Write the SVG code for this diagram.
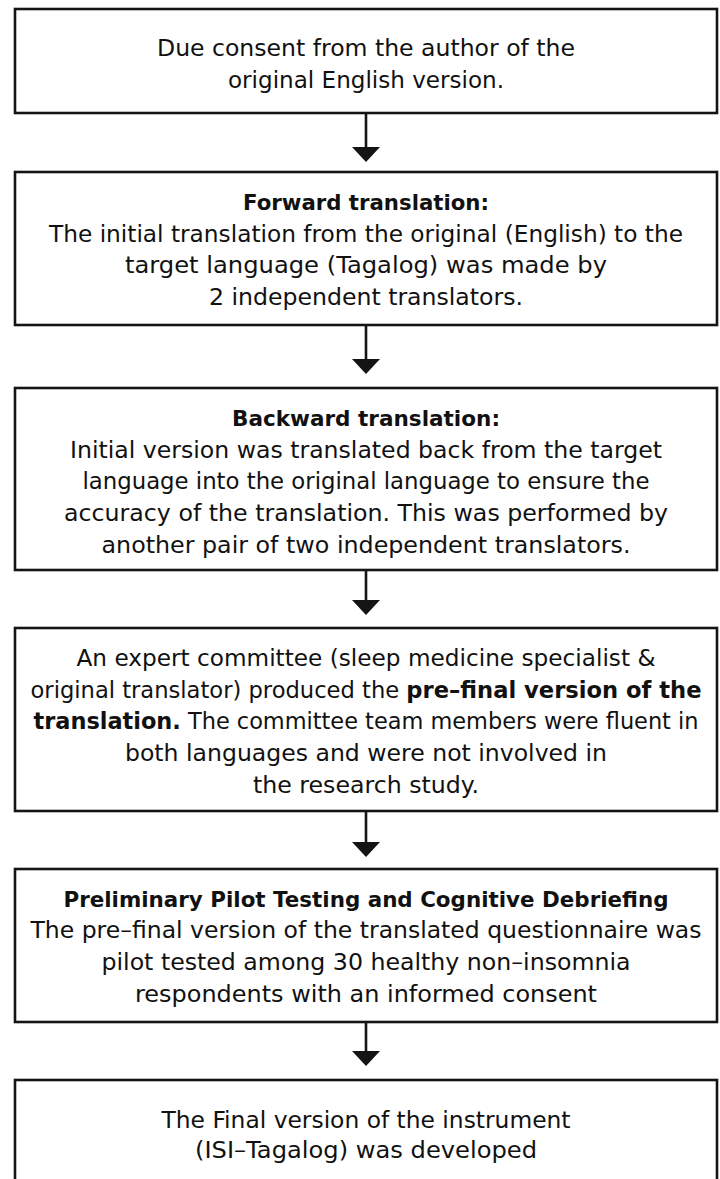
<svg xmlns="http://www.w3.org/2000/svg" width="720" height="1179" viewBox="0 0 720 1179">
  <style>
    .box { fill: #ffffff; stroke: #141414; stroke-width: 2.6; }
    .link { fill: none; stroke: #141414; stroke-width: 2.6; }
    text { font-family: "DejaVu Sans", "Noto Sans", sans-serif; font-size: 23.4px; fill: #111111; text-anchor: middle; }
    .b { font-weight: bold; }
    .title { font-weight: bold; font-size: 21.5px; }
  </style>
  <defs>
    <marker id="head" viewBox="0 0 15 28" refX="3" refY="14" markerWidth="15" markerHeight="28" markerUnits="userSpaceOnUse" orient="auto">
      <path d="M0,0 L15,14 L0,28 Z" fill="#141414"/>
    </marker>
  </defs>

  <rect x="0" y="0" width="720" height="1179" fill="#ffffff"/>

  <!-- flow arrows between the steps -->
  <g id="connectors">
    <line class="link" x1="366" y1="113" x2="366" y2="150" marker-end="url(#head)"/>
    <line class="link" x1="366" y1="325" x2="366" y2="362" marker-end="url(#head)"/>
    <line class="link" x1="366" y1="570" x2="366" y2="603" marker-end="url(#head)"/>
    <line class="link" x1="366" y1="811" x2="366" y2="845" marker-end="url(#head)"/>
    <line class="link" x1="366" y1="1022" x2="366" y2="1054" marker-end="url(#head)"/>
  </g>

  <g id="consent">
    <rect class="box" x="15" y="9" width="702" height="104"/>
    <text x="366" y="56" textLength="418" lengthAdjust="spacingAndGlyphs">Due consent from the author of the</text>
    <text x="366" y="88" textLength="276" lengthAdjust="spacingAndGlyphs">original English version.</text>
  </g>

  <g id="forward">
    <rect class="box" x="15" y="172" width="702" height="153"/>
    <text x="366" y="210" class="title" textLength="246" lengthAdjust="spacingAndGlyphs">Forward translation:</text>
    <text x="366" y="241.7" textLength="634" lengthAdjust="spacingAndGlyphs">The initial translation from the original (English) to the</text>
    <text x="366" y="273.4" textLength="482" lengthAdjust="spacingAndGlyphs">target language (Tagalog) was made by</text>
    <text x="366" y="305" textLength="314" lengthAdjust="spacingAndGlyphs">2 independent translators.</text>
  </g>

  <g id="backward">
    <rect class="box" x="15" y="388" width="702" height="182"/>
    <text x="366" y="426" class="title" textLength="268" lengthAdjust="spacingAndGlyphs">Backward translation:</text>
    <text x="366" y="457.7" textLength="592" lengthAdjust="spacingAndGlyphs">Initial version was translated back from the target</text>
    <text x="366" y="489.4" textLength="567" lengthAdjust="spacingAndGlyphs">language into the original language to ensure the</text>
    <text x="366" y="521" textLength="604" lengthAdjust="spacingAndGlyphs">accuracy of the translation. This was performed by</text>
    <text x="366" y="552.8" textLength="529" lengthAdjust="spacingAndGlyphs">another pair of two independent translators.</text>
  </g>

  <g id="committee">
    <rect class="box" x="15" y="628" width="702" height="183"/>
    <text x="366" y="666" textLength="579" lengthAdjust="spacingAndGlyphs">An expert committee (sleep medicine specialist &amp;</text>
    <text x="366" y="697.7" textLength="671" lengthAdjust="spacingAndGlyphs">original translator) produced the <tspan class="b">pre–final version of the</tspan></text>
    <text x="366" y="729.4" textLength="665" lengthAdjust="spacingAndGlyphs"><tspan class="b">translation.</tspan> The committee team members were fluent in</text>
    <text x="366" y="761" textLength="482" lengthAdjust="spacingAndGlyphs">both languages and were not involved in</text>
    <text x="366" y="792.8" textLength="226" lengthAdjust="spacingAndGlyphs">the research study.</text>
  </g>

  <g id="pilot">
    <rect class="box" x="15" y="869" width="702" height="153"/>
    <text x="366" y="906.5" class="title" textLength="605" lengthAdjust="spacingAndGlyphs">Preliminary Pilot Testing and Cognitive Debriefing</text>
    <text x="366" y="938.2" textLength="671" lengthAdjust="spacingAndGlyphs">The pre–final version of the translated questionnaire was</text>
    <text x="366" y="969.9" textLength="529" lengthAdjust="spacingAndGlyphs">pilot tested among 30 healthy non–insomnia</text>
    <text x="366" y="1001.6" textLength="462" lengthAdjust="spacingAndGlyphs">respondents with an informed consent</text>
  </g>

  <g id="final">
    <rect class="box" x="15" y="1080" width="702" height="104"/>
    <text x="366" y="1128" textLength="409" lengthAdjust="spacingAndGlyphs">The Final version of the instrument</text>
    <text x="366" y="1158" textLength="342" lengthAdjust="spacingAndGlyphs">(ISI–Tagalog) was developed</text>
  </g>
</svg>
